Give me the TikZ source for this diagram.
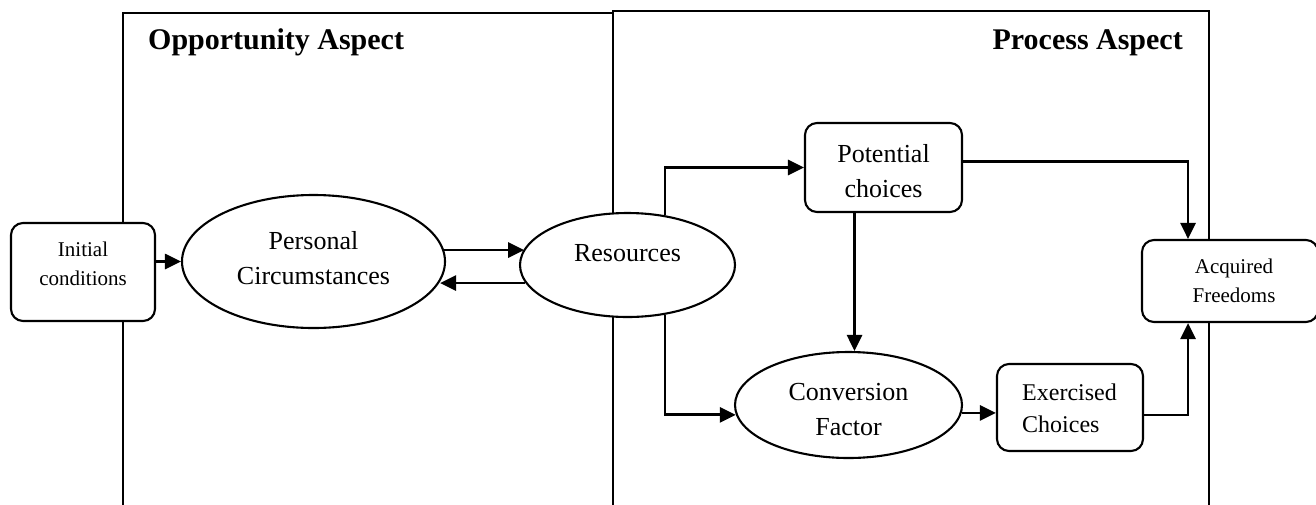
\documentclass[tikz,border=0pt]{standalone}
\usepackage{fontspec}
\setmainfont{Liberation Serif}
\usetikzlibrary{shapes.geometric,arrows.meta,calc}

\tikzset{
  frameline/.style={line width=2pt},
  roundbox/.style={draw, fill=white, line width=2.1pt, rounded corners=12pt, inner sep=0pt},
  ovalbox/.style={draw, fill=white, ellipse, line width=2.1pt, inner sep=0pt},
  arr/.style={line width=2.8pt, -{Triangle[length=16pt,width=15pt]}},
  txt/.style={inner sep=0pt, align=center},
  bigtxt/.style={txt, font=\fontsize{26}{35}\selectfont, text height=18pt, text depth=6pt},
  smalltxt/.style={txt, font=\fontsize{21}{29}\selectfont, text height=15pt, text depth=5pt},
  titletxt/.style={inner sep=0pt, font=\fontsize{30}{36}\selectfont\bfseries}
}

\begin{document}
\begin{tikzpicture}[x=1pt,y=-1pt]
  \useasboundingbox (0,0) rectangle (1316,504);

  % the two aspect frames, open at the bottom
  \draw[frameline] (123,510) -- (123,13) -- (613,13);
  \draw[frameline] (613,510) -- (613,11) -- (1209,11) -- (1209,510);

  \node[titletxt, anchor=base west] (optitle) at (148,49) {Opportunity Aspect};
  \node[titletxt, anchor=base east] (prtitle) at (1183,49) {Process Aspect};

  % shapes, filled so they hide the frame lines behind them
  \node[roundbox, minimum width=144pt, minimum height=98pt] (init) at (83,272) {};
  \node[ovalbox, minimum width=263pt, minimum height=133pt] (pc) at (313.5,261.5) {};
  \node[ovalbox, minimum width=215pt, minimum height=104pt] (res) at (627.5,265) {};
  \node[roundbox, minimum width=157pt, minimum height=89pt] (pot) at (883.5,167.5) {};
  \node[ovalbox, minimum width=227pt, minimum height=106pt] (conv) at (848.5,405) {};
  \node[roundbox, minimum width=146pt, minimum height=87pt] (exc) at (1070,407.5) {};
  \node[roundbox, minimum width=176pt, minimum height=82pt] (acq) at (1230,281) {};

  % texts (multi-line blocks sit on their last baseline)
  \node[smalltxt] (initT) at (83,280) {Initial\\conditions};
  \node[bigtxt] (pcT) at (313.5,278) {Personal\\Circumstances};
  \node[bigtxt] (resT) at (627.5,255) {Resources};
  \node[bigtxt] (potT) at (883.5,191) {Potential\\choices};
  \node[bigtxt] (convT) at (848.5,429) {Conversion\\Factor};
  \node[txt, align=left, anchor=west, font=\fontsize{24}{32}\selectfont,
        text height=17pt, text depth=6pt] (excT) at (1022,426.5) {Exercised\\Choices};
  \node[smalltxt] (acqT) at (1234,297) {Acquired\\Freedoms};

  % connectors
  \draw[arr] (init.east |- pc.west) -- (pc.west);
  \draw[arr] (pc.5) -- (res.171.7 |- pc.5);
  \draw[arr] (res.190.1) -- (pc.-9.8 |- res.190.1);
  \draw[arr] (res.53.3) |- (pot.west);
  \draw[arr] (res.-53.3) |- (conv.185.1);
  \draw[arr] ([xshift=-29pt]pot.south) -- ([xshift=-29pt]pot.south |- conv.north);
  \draw[arr] ([yshift=6pt]pot.east) -| ([xshift=-42pt]acq.north);
  \draw[arr] (conv.-4) -- (conv.-4 -| exc.west);
  \draw[arr] ([yshift=-7.5pt]exc.east) -| ([xshift=-42pt]acq.south);
\end{tikzpicture}
\end{document}
